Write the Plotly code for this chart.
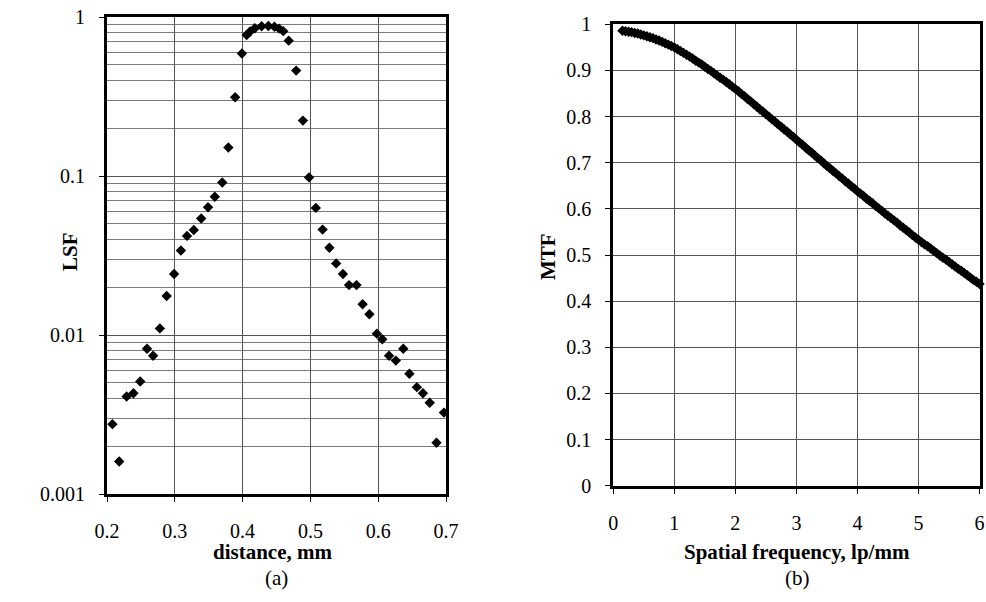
import numpy as np
import plotly.graph_objects as go

# ---- (a) Line spread function ----
lsf_distance_mm = [0.208, 0.218, 0.229, 0.239, 0.249, 0.259, 0.268, 0.278, 0.288, 0.299,
                   0.309, 0.318, 0.328, 0.339, 0.349, 0.359, 0.370, 0.379, 0.389, 0.399,
                   0.406, 0.411, 0.418, 0.428, 0.438, 0.447, 0.454, 0.460, 0.468, 0.479,
                   0.489, 0.498, 0.508, 0.518, 0.528, 0.538, 0.548, 0.557, 0.568, 0.577,
                   0.587, 0.598, 0.606, 0.616, 0.626, 0.637, 0.646, 0.657, 0.666, 0.676,
                   0.686, 0.697]
lsf_values = [0.00275, 0.0016, 0.0041, 0.0043, 0.0051, 0.0082, 0.0074, 0.011, 0.0176, 0.0242,
              0.034, 0.042, 0.0457, 0.054, 0.0636, 0.074, 0.091, 0.151, 0.313, 0.59,
              0.77, 0.81, 0.85, 0.875, 0.878, 0.868, 0.845, 0.815, 0.71, 0.46,
              0.223, 0.098, 0.063, 0.046, 0.0354, 0.0282, 0.0242, 0.0206, 0.0206, 0.0156,
              0.0135, 0.0102, 0.0094, 0.0074, 0.0069, 0.0082, 0.0057, 0.0047, 0.0043, 0.00375,
              0.0021, 0.00325]

# ---- (b) Modulation transfer function ----
mtf_frequency = np.round(np.arange(0.15, 6.0001, 0.05), 2)
mtf_values = [0.986, 0.985, 0.984, 0.983, 0.981, 0.980, 0.978, 0.976,
              0.974, 0.972, 0.970, 0.967, 0.965, 0.962, 0.959, 0.956, 0.953, 0.950,
              0.946, 0.942, 0.938, 0.934, 0.930, 0.926, 0.921, 0.917, 0.913, 0.908,
              0.903, 0.899, 0.894, 0.889, 0.884, 0.880, 0.875, 0.870, 0.865, 0.860,
              0.855, 0.849, 0.844, 0.838, 0.833, 0.827, 0.822, 0.816, 0.811, 0.805,
              0.800, 0.794, 0.789, 0.783, 0.778, 0.772, 0.767, 0.761, 0.756, 0.750,
              0.744, 0.739, 0.733, 0.727, 0.722, 0.716, 0.710, 0.705, 0.699, 0.693,
              0.688, 0.682, 0.677, 0.671, 0.666, 0.660, 0.655, 0.649, 0.644, 0.638,
              0.633, 0.628, 0.622, 0.617, 0.612, 0.606, 0.601, 0.596, 0.590, 0.585,
              0.580, 0.575, 0.570, 0.564, 0.559, 0.554, 0.549, 0.543, 0.538, 0.533,
              0.528, 0.523, 0.519, 0.514, 0.509, 0.504, 0.499, 0.494, 0.490, 0.485,
              0.480, 0.475, 0.470, 0.466, 0.461, 0.456, 0.451, 0.446, 0.442, 0.437]

lsf_x_ticks = [0.2, 0.3, 0.4, 0.5, 0.6, 0.7]
lsf_y_ticks = [0.001, 0.01, 0.1, 1]
lsf_y_ticktext = ["0.001", "0.01", "0.1", "1"]
mtf_x_ticks = [0, 1, 2, 3, 4, 5, 6]
mtf_y_ticks = [0, 0.1, 0.2, 0.3, 0.4, 0.5, 0.6, 0.7, 0.8, 0.9, 1]
mtf_y_ticktext = ["0", "0.1", "0.2", "0.3", "0.4", "0.5", "0.6", "0.7", "0.8", "0.9", "1"]

FONT = "Liberation Serif"
TICKFONT = dict(family=FONT, size=20, color="black")
TITLEFONT = dict(family=FONT, size=21, color="black")

W, H = 986, 602
def px(x):
    return x / W
def py(y):
    return 1 - y / H

fig = go.Figure()
fig.add_trace(go.Scatter(x=lsf_distance_mm, y=lsf_values, mode="markers",
                         marker=dict(symbol="diamond", size=8, color="black"),
                         xaxis="x", yaxis="y", cliponaxis=False, showlegend=False))
fig.add_trace(go.Scatter(x=mtf_frequency, y=mtf_values, mode="markers",
                         marker=dict(symbol="diamond", size=8, color="black"),
                         xaxis="x2", yaxis="y2", cliponaxis=False, showlegend=False))

axis_common = dict(showline=True, linewidth=3, linecolor="black", mirror=True,
                   ticks="outside", ticklen=5, tickwidth=1, tickcolor="black",
                   gridcolor="#555555", gridwidth=1, zeroline=False,
                   tickfont=TICKFONT, automargin=False)

def label(text, x, y, angle=0, font=TITLEFONT):
    return dict(text=text, x=px(x), y=py(y), xref="paper", yref="paper",
                xanchor="center", yanchor="middle", textangle=angle,
                showarrow=False, font=font)

fig.update_layout(
    width=W, height=H,
    margin=dict(l=0, r=0, t=0, b=0),
    paper_bgcolor="white", plot_bgcolor="white",
    xaxis=dict(axis_common, domain=[px(107), px(446)], range=[0.2, 0.7],
               tickvals=lsf_x_ticks, anchor="y", ticklabelstandoff=12),
    yaxis=dict(axis_common, domain=[py(494), py(17)], type="log", range=[-3, 0],
               tickvals=lsf_y_ticks, ticktext=lsf_y_ticktext, anchor="x",
               ticklabelstandoff=10,
               minor=dict(dtick="D1", showgrid=True, gridcolor="#7a7a7a", gridwidth=1, ticks="")),
    xaxis2=dict(axis_common, domain=[px(613.3), px(979.5)], range=[0, 6],
                tickvals=mtf_x_ticks, anchor="y2", ticklabelstandoff=12),
    yaxis2=dict(axis_common, domain=[py(485.7), py(24.3)], range=[0, 1],
                tickvals=mtf_y_ticks, ticktext=mtf_y_ticktext, anchor="x2",
                ticklabelstandoff=10),
    annotations=[
        label("<b>distance, mm</b>", 272, 552),
        label("<b>Spatial frequency, lp/mm</b>", 797, 552),
        label("<b>LSF</b>", 70, 252, angle=-90),
        label("<b>MTF</b>", 548, 257, angle=-90),
        label("(a)", 276, 578, font=dict(family=FONT, size=21, color="black")),
        label("(b)", 797, 578, font=dict(family=FONT, size=21, color="black")),
    ],
)

fig.write_html("out.html",
               config={"displayModeBar": False},
               post_script="document.body.style.margin='0';"
                           "document.body.style.overflow='hidden';")
